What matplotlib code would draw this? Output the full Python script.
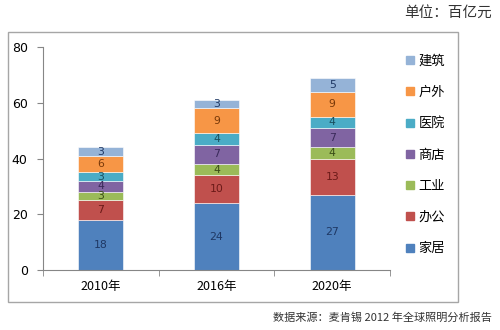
import matplotlib.pyplot as plt
import numpy as np
from matplotlib.patches import Rectangle
from matplotlib.lines import Line2D

plt.rcParams['font.family'] = ['Noto Sans CJK SC', 'DejaVu Sans']

years = ['2010年', '2016年', '2020年']
segments = ['家居', '办公', '工业', '商店', '医院', '户外', '建筑']
home = [18, 24, 27]
office = [7, 10, 13]
industry = [3, 4, 4]
shop = [4, 7, 7]
hospital = [3, 4, 4]
outdoor = [6, 9, 9]
building = [3, 3, 5]

colors = ['#4F81BD', '#C0504D', '#9BBB59', '#8064A2', '#4BACC6', '#F79646', '#95B3D7']
text_colors = ['#1F3864', '#6B1A18', '#3A4D17', '#3A2A5A', '#1A4F5E', '#7A3A0A', '#1F3864']

fig = plt.figure(figsize=(5, 3.3), dpi=100)
fig.patch.set_facecolor('white')
# outer chart frame
fig.patches.append(Rectangle((8 / 500, 1 - 302 / 330), 450 / 500, 270 / 330,
                             transform=fig.transFigure, fill=False,
                             edgecolor='#A6A6A6', linewidth=1.0))

ax = fig.add_axes([43 / 500, 1 - 270 / 330, 347 / 500, 223 / 330])
x = np.arange(len(years))
bottom = np.zeros(len(years))
series = [home, office, industry, shop, hospital, outdoor, building]
for vals, c, tc in zip(series, colors, text_colors):
    vals = np.array(vals)
    ax.bar(x, vals, 0.39, bottom=bottom, color=c, edgecolor='white', linewidth=0.4)
    for xi, b, v in zip(x, bottom, vals):
        ax.text(xi, b + v / 2, str(v), ha='center', va='center',
                fontsize=7.8, color=tc, family='DejaVu Sans')
    bottom += vals

ax.set_xlim(-0.5, 2.5)
ax.set_ylim(0, 80)
ax.set_yticks([0, 20, 40, 60, 80])
ax.set_xticks(x)
ax.set_xticklabels(years, fontsize=9)
ax.set_xticks([-0.5, 0.5, 1.5, 2.5], minor=True)
ax.tick_params(axis='x', which='major', length=0, pad=7)
ax.tick_params(axis='x', which='minor', length=4, direction='out', color='#868686')
ax.tick_params(axis='y', length=4, color='#868686', labelsize=9, pad=7)
for lab in ax.get_yticklabels():
    lab.set_family('DejaVu Sans')
for s in ['top', 'right']:
    ax.spines[s].set_visible(False)
for s in ['left', 'bottom']:
    ax.spines[s].set_color('#868686')

handles = [Line2D([], [], marker='s', linestyle='none', markersize=6,
                  markerfacecolor=c, markeredgecolor=c) for c in colors]
leg = fig.legend(handles[::-1], segments[::-1], loc='upper left',
                 bbox_to_anchor=(392 / 500, 1 - 43 / 330), frameon=False,
                 fontsize=9.5, labelspacing=1.38, handletextpad=0.1,
                 handlelength=1.0)

fig.text(492 / 500, 1 - 13 / 330, '单位：百亿元', ha='right', va='center',
         fontsize=10.5, color='#333333')
fig.text(492 / 500, 1 - 318 / 330, '数据来源：麦肯锡 2012 年全球照明分析报告',
         ha='right', va='center', fontsize=8, color='#333333')

fig.savefig('out.png', dpi=100)
